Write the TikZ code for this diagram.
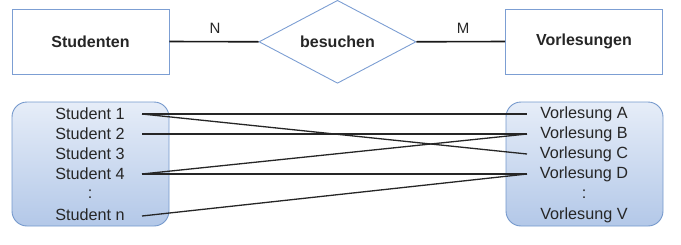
\documentclass[tikz,border=0pt]{standalone}
\usepackage{fontspec}
\setmainfont{Liberation Sans}
\usetikzlibrary{shapes.geometric}
\definecolor{erblue}{HTML}{7C9ED3}
\definecolor{boxedge}{HTML}{7498CC}
\definecolor{boxtop}{HTML}{E6EDF8}
\definecolor{boxbottom}{HTML}{B3C8E8}
\definecolor{txt}{HTML}{262626}
\begin{document}
\begin{tikzpicture}[x=1pt,y=-1pt,
  entity/.style={draw=erblue,line width=0.9pt,minimum width=157pt,minimum height=65pt,
    inner sep=0pt,font=\fontsize{16}{18}\selectfont\bfseries,text=txt},
  relation/.style={diamond,draw=erblue,line width=0.9pt,minimum width=157pt,minimum height=83pt,
    inner sep=0pt,aspect=1.9,font=\fontsize{16}{18}\selectfont\bfseries,text=txt},
  link/.style={line width=1.6pt,black!90},
  card/.style={font=\fontsize{15}{17}\selectfont,text=txt},
  setbox/.style={draw=boxedge,line width=0.9pt,rounded corners=15pt,
    top color=boxtop,bottom color=boxbottom,minimum width=157pt,minimum height=124pt,inner sep=0pt},
  item/.style={font=\fontsize{16.2}{18}\selectfont,text=txt,inner sep=0pt},
  pair/.style={line width=1.3pt,black!85}]
\useasboundingbox (0,0) rectangle (681,244);

% ER diagram
\node[entity] (stud) at (90.5,41.5) {Studenten};
\node[relation] (bes) at (337.5,41.8) {besuchen};
\node[entity] (vorl) at (584,41.5) {Vorlesungen};
\draw[link] (stud.east) -- (bes.west);
\draw[link] (bes.east) -- (vorl.west);
\node[card] (n) at (215,28) {N};
\node[card] (m) at (463,28) {M};

% example sets
\node[setbox] (sset) at (90.5,164) {};
\node[setbox] (vset) at (584.5,164) {};

\foreach \name/\txt/\y in {s1/Student 1/114, s2/Student 2/134, s3/Student 3/154,
    s4/Student 4/174, sd/:/194, sn/Student n/215} {
  \node[item] (\name) at (90,\y) {\txt};
}
\foreach \name/\txt/\y in {v1/Vorlesung A/114, v2/Vorlesung B/134, v3/Vorlesung C/154,
    v4/Vorlesung D/174, vd/:/194, vv/Vorlesung V/215} {
  \node[item] (\name) at (584,\y) {\txt};
}

% line ends beside the entries
\coordinate (a1) at (142,114);
\coordinate (a2) at (142,134);
\coordinate (a4) at (142,174);
\coordinate (an) at (142,216);
\coordinate (bA) at (527,114);
\coordinate (bB) at (527,134);
\coordinate (bC) at (527,154);
\coordinate (bD) at (527,174);

\draw[pair] (a1) -- (bA);
\draw[pair] (a1) -- (bC);
\draw[pair] (a2) -- (bB);
\draw[pair] (a4) -- (bB);
\draw[pair] (a4) -- (bD);
\draw[pair] (an) -- (bD);
\end{tikzpicture}
\end{document}
